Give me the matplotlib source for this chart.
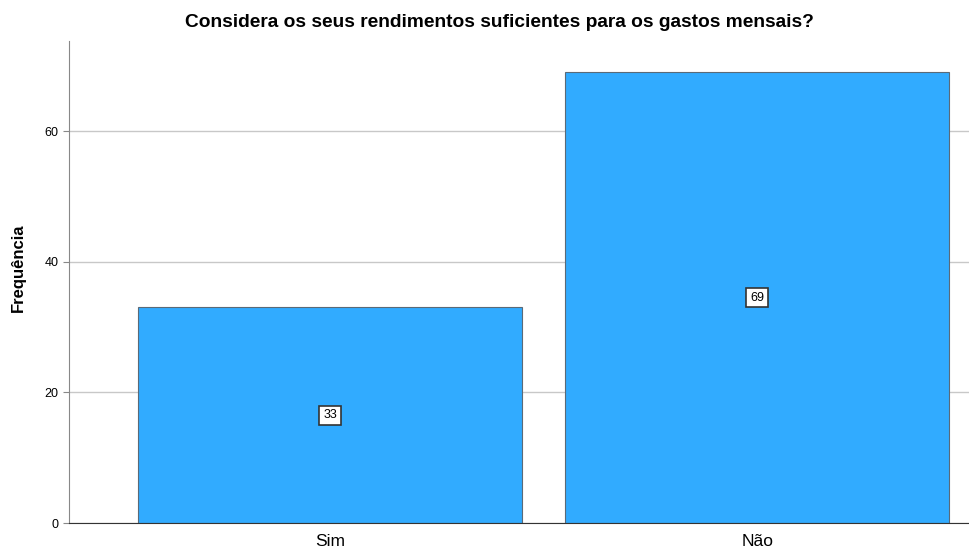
import matplotlib.pyplot as plt

plt.rcParams['font.family'] = ['Liberation Sans', 'DejaVu Sans']

categorias = ["Sim", "Não"]
frequencias = [33, 69]

fig = plt.figure(figsize=(9.69, 5.52), dpi=100)
ax = fig.add_axes([0.0712, 0.0525, 0.9288, 0.8732])

x = range(len(categorias))
ax.bar(x, frequencias, width=0.9, color="#31abff", edgecolor="#5a6a78", linewidth=0.8, zorder=2)

for xi, v in zip(x, frequencias):
    ax.text(xi, v / 2, str(v), ha="center", va="center", fontsize=9, zorder=3,
            bbox=dict(boxstyle="square,pad=0.3", facecolor="white", edgecolor="#333333", linewidth=1.2))

ax.set_xlim(-0.611, 1.496)
ax.set_ylim(0, 73.8)
ax.set_yticks([0, 20, 40, 60])
ax.set_xticks(list(x))
ax.set_xticklabels(categorias, fontsize=12.5)
ax.tick_params(axis="y", labelsize=9, length=4, color="#888888")
ax.tick_params(axis="x", length=0, pad=8)
ax.grid(axis="y", color="#c8c8c8", linewidth=1, zorder=0)
ax.set_axisbelow(True)

for s in ["top", "right"]:
    ax.spines[s].set_visible(False)
ax.spines["left"].set_color("#888888")
ax.spines["bottom"].set_color("#333333")

ax.set_ylabel("Frequência", fontsize=12, fontweight="bold")
ax.yaxis.set_label_coords(-0.048, 0.53)
ax.set_title("Considera os seus rendimentos suficientes para os gastos mensais?",
             fontsize=13.8, fontweight="bold", pad=10, x=0.478)

fig.savefig("out.png", dpi=100)
